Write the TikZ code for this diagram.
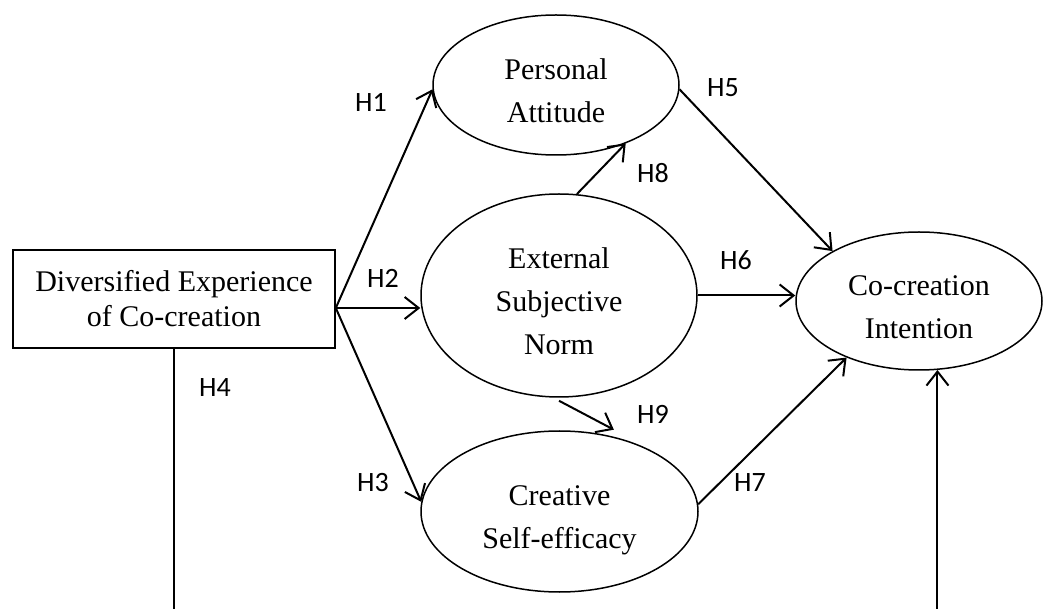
\documentclass[tikz,border=0pt]{standalone}
\usepackage{fontspec}
\setmainfont{Liberation Serif}
\newfontfamily\hfont{Carlito}
\usetikzlibrary{shapes.geometric,arrows.meta}
\tikzstyle{construct}=[draw=black,line width=1.5pt,ellipse,inner sep=0pt,font=\fontsize{30}{43}\selectfont]
\tikzstyle{source}=[draw=black,line width=1.6pt,rectangle,inner sep=0pt,align=center,font=\fontsize{30}{35}\selectfont]
\tikzstyle{hyp}=[line width=2pt,-{Straight Barb[length=14pt,width=22pt]}]
\tikzstyle{hlabel}=[font=\hfont\fontsize{28}{28}\selectfont]
\newcommand{\ctext}[1]{\raisebox{-7pt}[\height][\depth]{\begin{tabular}{@{}c@{}}#1\end{tabular}}}

\begin{document}
\begin{tikzpicture}[x=1pt,y=-1pt]
    \useasboundingbox (0,0) rectangle (1045,609);
    \coordinate (bottom) at (0,609);

    % constructs
    \node [source,minimum width=322pt,minimum height=98pt] (dec) at (174,299) {Diversified Experience\\of Co-creation};
    \node [construct,minimum width=246pt,minimum height=140pt] (pa) at (556,85) {\ctext{Personal\\Attitude}};
    \node [construct,minimum width=276pt,minimum height=203pt] (esn) at (559,295.5) {\ctext{External\\Subjective\\Norm}};
    \node [construct,minimum width=277pt,minimum height=161pt] (cse) at (559.5,511.5) {\ctext{Creative\\Self-efficacy}};
    \node [construct,minimum width=246pt,minimum height=138pt] (ci) at (919,301) {\ctext{Co-creation\\Intention}};

    % paths
    \coordinate (src) at ([yshift=-9pt]dec.east);
    \draw [hyp] (src) -- (pa.182);
    \draw [hyp] (src) -- (src -| esn.west);
    \draw [hyp] (src) -- (cse.176);
    \draw [line width=2pt] (dec.south) -- (dec.south |- bottom);
    \draw [hyp] (pa.-2) -- (ci.150);
    \draw [hyp] (esn.east) -- (esn.east -| ci.west);
    \draw [hyp] (cse.3) -- (ci.218);
    \draw [hyp] (esn.80) -- (pa.-40);
    \draw [hyp] ([yshift=-3pt]esn.south) -- ([yshift=7pt]cse.54);
    \draw [hyp] (ci.-75 |- bottom) -- (ci.-75);

    % hypotheses
    \node [hlabel] (h1) at (371,102) {H1};
    \node [hlabel] (h2) at (383,278) {H2};
    \node [hlabel] (h3) at (373,483) {H3};
    \node [hlabel] (h4) at (215,388) {H4};
    \node [hlabel] (h5) at (723,88) {H5};
    \node [hlabel] (h6) at (736,260) {H6};
    \node [hlabel] (h7) at (750,483) {H7};
    \node [hlabel] (h8) at (653,173) {H8};
    \node [hlabel] (h9) at (653,414) {H9};
\end{tikzpicture}
\end{document}
